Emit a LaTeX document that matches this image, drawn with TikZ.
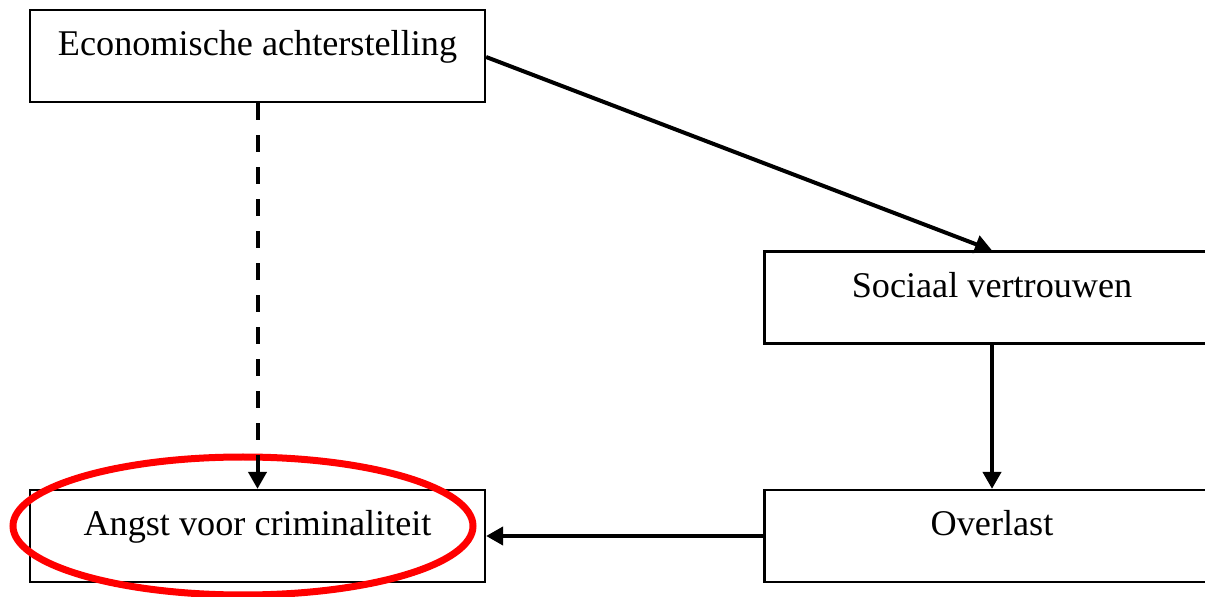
\documentclass[tikz,border=0pt]{standalone}
\usepackage{fontspec}
\setmainfont{Liberation Serif}
\usetikzlibrary{arrows.meta}

\begin{document}
\begin{tikzpicture}[>={Triangle[length=0.34cm,width=0.36cm]},line width=0.08cm,
        box/.style={rectangle,draw=black,line width=0.045cm,minimum width=9.1cm,minimum height=1.84cm,
          inner sep=0,text height=0.9cm,text depth=0.9cm,font=\fontsize{20.6}{24}\selectfont}]
        \useasboundingbox (0,0) rectangle (24.1,11.92);
        \node[box]  (econ) at (5.15,10.8) {Economische achterstelling};
        \node[box]  (soc) at (19.84,5.97) {Sociaal vertrouwen};
        \node[box]  (over) at (19.84,1.2) {Overlast};
        \node[box]  (angst) at (5.15,1.2) {Angst voor criminaliteit};
        \draw[red,line width=0.14cm] (4.86,1.4) ellipse (4.6cm and 1.38cm);
        \draw[->,dash pattern=on 0.34cm off 0.3cm] (econ) -- (angst);
        \draw[->] (econ.east |- 0,10.78) -- (soc.north);
        \draw[->] (soc) -- (over);
        \draw[->] (over) -- (angst);
      \end{tikzpicture}
\end{document}
